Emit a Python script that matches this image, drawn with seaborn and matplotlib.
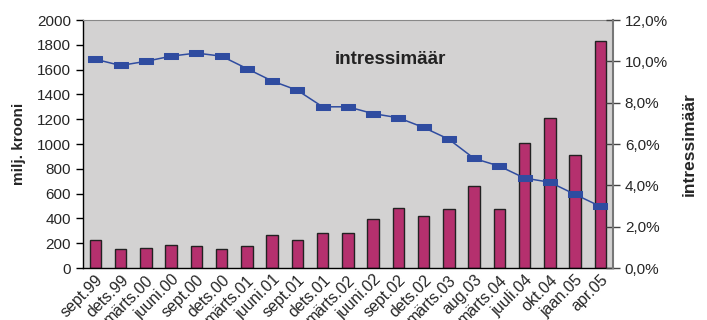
import matplotlib
matplotlib.use("Agg")
import matplotlib.pyplot as plt
import numpy as np
import pandas as pd
import seaborn as sns

periods = ["sept.99", "dets.99", "märts.00", "juuni.00", "sept.00", "dets.00",
           "märts.01", "juuni.01", "sept.01", "dets.01", "märts.02", "juuni.02",
           "sept.02", "dets.02", "märts.03", "aug.03", "märts.04", "juuli.04",
           "okt.04", "jaan.05", "apr.05"]
volume = [228, 152, 164, 185, 175, 152, 175, 263, 228, 285, 285, 395,
          481, 419, 473, 661, 473, 1005, 1207, 914, 1833]
rate = [10.1, 9.8, 10.0, 10.25, 10.4, 10.25, 9.65, 9.05, 8.6, 7.8, 7.8, 7.47,
        7.27, 6.8, 6.23, 5.3, 4.93, 4.35, 4.15, 3.56, 2.98]

df = pd.DataFrame({"period": periods, "volume": volume, "rate": rate})

sns.set_style("white")
plt.rcParams["font.family"] = ["Liberation Sans", "DejaVu Sans"]

fig, ax = plt.subplots(figsize=(7.07, 3.2), dpi=100)
fig.subplots_adjust(left=0.117, right=0.867, top=0.9375, bottom=0.1625)

bar_col = "#B5306E"
line_col = "#2F4CA0"

sns.barplot(data=df, x="period", y="volume", color=bar_col, width=0.45,
            edgecolor="#222222", linewidth=1, saturation=1, ax=ax)
ax.set_facecolor("#D3D2D2")
ax.set_ylim(0, 2000)
ax.set_yticks(np.arange(0, 2001, 200))
ax.set_xlim(-0.5, len(periods) - 0.5)
ax.set_xlabel("")
ax.set_ylabel("milj. krooni", fontsize=11, fontweight="bold", labelpad=8)
ax.tick_params(axis="y", direction="out", length=5, width=1, labelsize=11, color="black")
ax.tick_params(axis="x", length=0, labelsize=11.5, pad=3)
ax.set_xticks(range(len(periods)))
ax.set_xticklabels(periods, rotation=45, ha="right", rotation_mode="anchor")
ax.set_xticks(np.arange(0.5, len(periods) - 0.5, 1), minor=True)
ax.tick_params(axis="x", which="minor", direction="inout", length=10, width=1, color="#222222")

for s in ["left", "bottom"]:
    ax.spines[s].set_color("black")
    ax.spines[s].set_linewidth(1)
ax.spines["top"].set_color("#888888")
ax.spines["right"].set_visible(False)

ax2 = ax.twinx()
rect = [(-1, -0.4), (1, -0.4), (1, 0.4), (-1, 0.4), (-1, -0.4)]
sns.lineplot(data=df, x="period", y="rate", color=line_col, linewidth=1.1,
             marker=rect, markersize=10, markeredgecolor=line_col,
             markerfacecolor=line_col, sort=False, ax=ax2)
ax2.set_ylim(0, 12)
ax2.set_xlim(-0.5, len(periods) - 0.5)
ax2.set_yticks(np.arange(0, 12.1, 2))
ax2.set_yticklabels([f"{v:.1f}%".replace(".", ",") for v in np.arange(0, 12.1, 2)])
ax2.set_ylabel("intressimäär", fontsize=12.5, fontweight="bold", labelpad=10)
ax2.tick_params(axis="y", direction="inout", length=10, width=1, labelsize=11, color="#444444")
for s in ["left", "bottom", "top"]:
    ax2.spines[s].set_visible(False)
ax2.spines["right"].set_color("#777777")
ax2.spines["right"].set_linewidth(1.5)

ax.text(0.58, 0.84, "intressimäär", transform=ax.transAxes, fontsize=13.5,
        fontweight="bold", ha="center", va="center", color="#222222")

fig.savefig("out.png", dpi=100)
